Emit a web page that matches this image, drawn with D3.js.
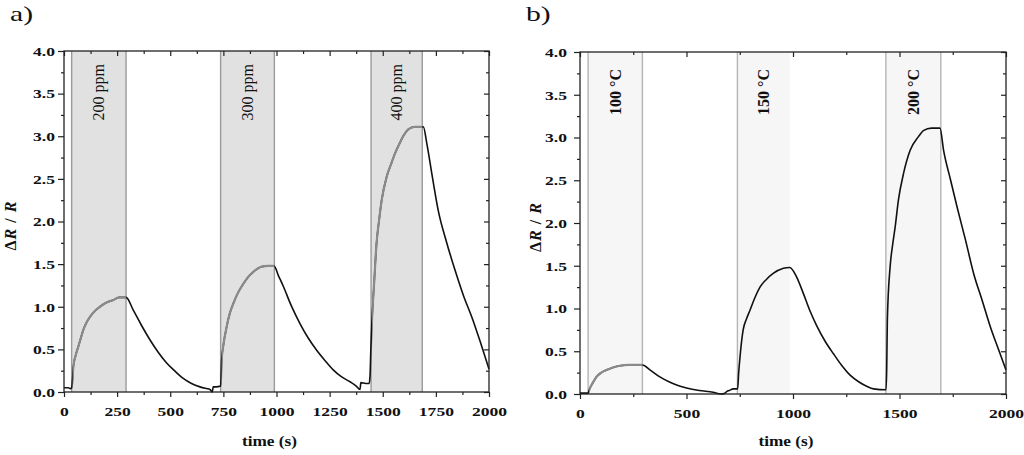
<!doctype html>
<html>
<head>
<meta charset="utf-8">
<title>Gas response</title>
<style>
  body { margin: 0; background: #fff; }
  svg { display: block; font-family: "Liberation Serif", "Times New Roman", serif; }
</style>
</head>
<body>
<svg width="1024" height="455"></svg>
<script src="https://cdnjs.cloudflare.com/ajax/libs/d3/7.8.5/d3.min.js"></script>
<script>
// ---- data ----
var timeA = [0, 20, 30, 36, 40, 44, 55, 67, 80, 91, 105, 122, 145, 169, 200, 232, 260, 292,
  326, 365, 405, 445, 483, 520, 561, 600, 640, 670, 687, 698, 702, 715, 737,
  742, 750, 765, 780, 797, 820, 844, 867, 891, 930, 960, 988,
  1010, 1032, 1070, 1111, 1150, 1189, 1228, 1267, 1305, 1346, 1375, 1393, 1397, 1420, 1436,
  1440, 1444, 1448, 1460, 1471, 1483, 1495, 1519, 1540, 1558, 1580, 1596, 1620, 1650, 1691,
  1707, 1735, 1761, 1800, 1840, 1880, 1919, 1960, 2000];
var respA = [0.05, 0.05, 0.04, 0.05, 0.15, 0.30, 0.43, 0.53, 0.64, 0.73, 0.81, 0.88, 0.95, 1.00, 1.05, 1.08, 1.11, 1.11,
  0.96, 0.78, 0.61, 0.46, 0.34, 0.25, 0.16, 0.10, 0.06, 0.04, 0.03, 0.00, 0.06, 0.06, 0.07,
  0.38, 0.55, 0.76, 0.92, 1.04, 1.17, 1.27, 1.35, 1.41, 1.47, 1.48, 1.48,
  1.36, 1.24, 1.01, 0.80, 0.63, 0.49, 0.37, 0.26, 0.18, 0.12, 0.07, 0.03, 0.11, 0.10, 0.10,
  0.18, 0.50, 0.77, 1.30, 1.75, 2.02, 2.25, 2.53, 2.68, 2.80, 2.92, 3.00, 3.08, 3.11, 3.11,
  2.92, 2.50, 2.13, 1.76, 1.43, 1.13, 0.88, 0.58, 0.27];

var timeB = [0, 38, 45, 60, 77, 100, 124, 155, 187, 230, 293, 330, 375, 420, 460, 500, 560, 625,
  660, 680, 690, 700, 720, 740, 745, 750, 766, 782, 798, 820, 845, 875, 907, 955, 985,
  1015, 1048, 1080, 1111, 1150, 1190, 1230, 1268, 1310, 1346, 1378, 1437,
  1440, 1443, 1456, 1468, 1480, 1495, 1519, 1550, 1589, 1612, 1650, 1690,
  1707, 1740, 1770, 1810, 1848, 1890, 1926, 1965, 2000];
var respB = [0.01, 0.01, 0.06, 0.13, 0.20, 0.25, 0.28, 0.31, 0.33, 0.34, 0.34, 0.28, 0.20, 0.14, 0.10, 0.07, 0.04, 0.02,
  0.00, 0.01, 0.03, 0.04, 0.06, 0.06, 0.25, 0.40, 0.75, 0.88, 0.98, 1.12, 1.25, 1.34, 1.41, 1.47, 1.48,
  1.38, 1.18, 0.97, 0.80, 0.62, 0.47, 0.33, 0.22, 0.14, 0.09, 0.06, 0.05,
  0.30, 0.87, 1.49, 1.75, 1.96, 2.27, 2.58, 2.85, 3.01, 3.08, 3.11, 3.11,
  2.85, 2.50, 2.19, 1.80, 1.41, 1.08, 0.79, 0.52, 0.28];

// exposure windows (s)
var startA = [36, 737, 1445], endA = [292, 990, 1686];
var labelsA = ["200 ppm", "300 ppm", "400 ppm"];
var startB = [38, 739, 1436], endB = [293, 985, 1694];
var labelsB = ["100 °C", "150 °C", "200 °C"];
var rightEdgeB = [true, false, true];
var greyB = [true, false, false];

var majorXA = [0, 250, 500, 750, 1000, 1250, 1500, 1750, 2000];
var minorXA = [125, 375, 625, 875, 1125, 1375, 1625, 1875];
var majorXB = [0, 500, 1000, 1500, 2000];
var minorXB = [250, 750, 1250, 1750];
var majorY = [0, 0.5, 1, 1.5, 2, 2.5, 3, 3.5, 4];
var minorY = [0.25, 0.75, 1.25, 1.75, 2.25, 2.75, 3.25, 3.75];

var svg = d3.select("svg");
var SX = 1.3; // the original figure text is stretched horizontally

function panel(o) {
  var x = d3.scaleLinear().domain([0, 2000]).range([o.left, o.right]);
  var y = d3.scaleLinear().domain([0, 4]).range([o.bottom, o.top]);
  var g = svg.append("g");
  var id = "clip" + o.name;

  // shaded exposure windows
  var wins = o.starts.map(function(s, i) { return { s: s, e: o.ends[i], i: i }; });
  g.selectAll("rect.win").data(wins).enter().append("rect")
    .attr("class", "win")
    .attr("x", function(d) { return x(d.s); })
    .attr("y", o.top)
    .attr("width", function(d) { return x(d.e) - x(d.s); })
    .attr("height", o.bottom - o.top)
    .attr("fill", o.shade);
  wins.forEach(function(d) {
    [[d.s, true], [d.e, o.rightEdge ? o.rightEdge[d.i] : true]].forEach(function(p) {
      if (!p[1]) return;
      g.append("line")
        .attr("x1", x(p[0])).attr("x2", x(p[0]))
        .attr("y1", o.top).attr("y2", o.bottom)
        .attr("stroke", o.edge).attr("stroke-width", 1.4);
    });
  });

  // clip for grey part of the curve
  var cp = svg.append("clipPath").attr("id", id);
  wins.filter(function(d) { return o.grey[d.i]; }).forEach(function(d) {
    cp.append("rect").attr("x", x(d.s) + 1).attr("y", o.top)
      .attr("width", x(d.e) - x(d.s) - 1).attr("height", o.bottom - o.top);
  });

  var pts = o.t.map(function(t, i) { return [t, o.v[i]]; });
  var line = d3.line().x(function(d) { return x(d[0]); }).y(function(d) { return y(d[1]); })
    .curve(d3.curveMonotoneX);
  g.append("path").datum(pts).attr("d", line)
    .attr("fill", "none").attr("stroke", "#111").attr("stroke-width", 1.6);
  g.append("path").datum(pts).attr("d", line)
    .attr("clip-path", "url(#" + id + ")")
    .attr("fill", "none").attr("stroke", "#8a8a8a").attr("stroke-width", 2.2);

  // window labels
  g.selectAll("text.win").data(wins).enter().append("text")
    .attr("class", "win")
    .attr("transform", function(d) {
      return "translate(" + ((x(d.s) + x(d.e)) / 2) + "," + o.labelTop + ") rotate(-90)";
    })
    .attr("text-anchor", "end")
    .attr("dy", "0.35em")
    .style("font-size", "16px")
    .style("font-weight", o.labelBold ? "bold" : "normal")
    .attr("fill", "#111")
    .text(function(d, i) { return o.labels[i]; });

  // axes
  function ax(axis, tr, size, vals, labels) {
    var a = g.append("g").attr("transform", tr)
      .call(axis.tickValues(vals).tickSize(size).tickSizeOuter(0)
        .tickFormat(labels ? d3.format(labels) : ""));
    a.attr("font-family", null).attr("font-size", null);
    a.select(".domain").remove();
    a.selectAll("line").attr("stroke", "#222").attr("stroke-width", 1.2);
    a.selectAll("text").style("font-size", "13.5px").style("font-weight", "bold")
      .attr("fill", "#111");
    return a;
  }
  var bx = ax(d3.axisBottom(x), "translate(0," + o.bottom + ")", 5, o.majorX, "d");
  bx.selectAll("text").attr("y", 0).attr("dy", "1.75em").attr("transform", "scale(" + SX + ",1)");
  ax(d3.axisBottom(x), "translate(0," + o.bottom + ")", 3, o.minorX, null);
  ax(d3.axisBottom(x), "translate(0," + o.top + ")", 5, o.majorX, null);
  ax(d3.axisBottom(x), "translate(0," + o.top + ")", 3, o.minorX, null);
  var ly = ax(d3.axisLeft(y), "translate(" + o.left + ",0)", 6, majorY, ".1f");
  ly.selectAll("text").attr("x", -o.yPad / SX).attr("transform", "scale(" + SX + ",1)");
  ax(d3.axisLeft(y), "translate(" + o.left + ",0)", 3, minorY, null);
  ax(d3.axisLeft(y), "translate(" + o.right + ",0)", 5, majorY, null);
  ax(d3.axisLeft(y), "translate(" + o.right + ",0)", 3, minorY, null);

  g.append("rect").attr("x", o.left).attr("y", o.top)
    .attr("width", o.right - o.left).attr("height", o.bottom - o.top)
    .attr("fill", "none").attr("stroke", "#222").attr("stroke-width", 1.3);

  // axis titles
  g.append("text")
    .attr("transform", "translate(" + ((o.left + o.right) / 2 - 7) + ",446) scale(1.15,1)")
    .attr("text-anchor", "middle")
    .style("font-size", "15px").style("font-weight", "bold").attr("fill", "#111")
    .text("time (s)");
  var yl = g.append("text")
    .attr("transform", "translate(" + o.yTitleX + "," + ((o.top + o.bottom) / 2 + 4) + ") rotate(-90)")
    .attr("text-anchor", "middle")
    .style("font-size", "16px").style("font-weight", "bold").attr("fill", "#111")
    .style("letter-spacing", "1px");
  yl.append("tspan").text("Δ");
  yl.append("tspan").style("font-style", "italic").text("R");
  yl.append("tspan").text(" / ");
  yl.append("tspan").style("font-style", "italic").text("R");

  svg.append("text")
    .attr("transform", "translate(" + o.tagX + ",21) scale(1.35,1)")
    .style("font-size", "22px").attr("fill", "#111")
    .text(o.tag);
}

panel({
  name: "A", left: 64, right: 489, top: 51, bottom: 392,
  t: timeA, v: respA, starts: startA, ends: endA, labels: labelsA,
  grey: [true, true, true], shade: "#e1e1e1", edge: "#9a9a9a",
  labelTop: 64, labelBold: false, majorX: majorXA, minorX: minorXA,
  yPad: 9, yTitleX: 16, tag: "a)", tagX: 10
});
panel({
  name: "B", left: 580, right: 1006, top: 52, bottom: 394,
  t: timeB, v: respB, starts: startB, ends: endB, labels: labelsB,
  grey: greyB, rightEdge: rightEdgeB, shade: "#f6f6f6", edge: "#b5b5b5",
  labelTop: 69, labelBold: true, majorX: majorXB, minorX: minorXB,
  yPad: 13, yTitleX: 541, tag: "b)", tagX: 526
});
</script>
</body>
</html>
